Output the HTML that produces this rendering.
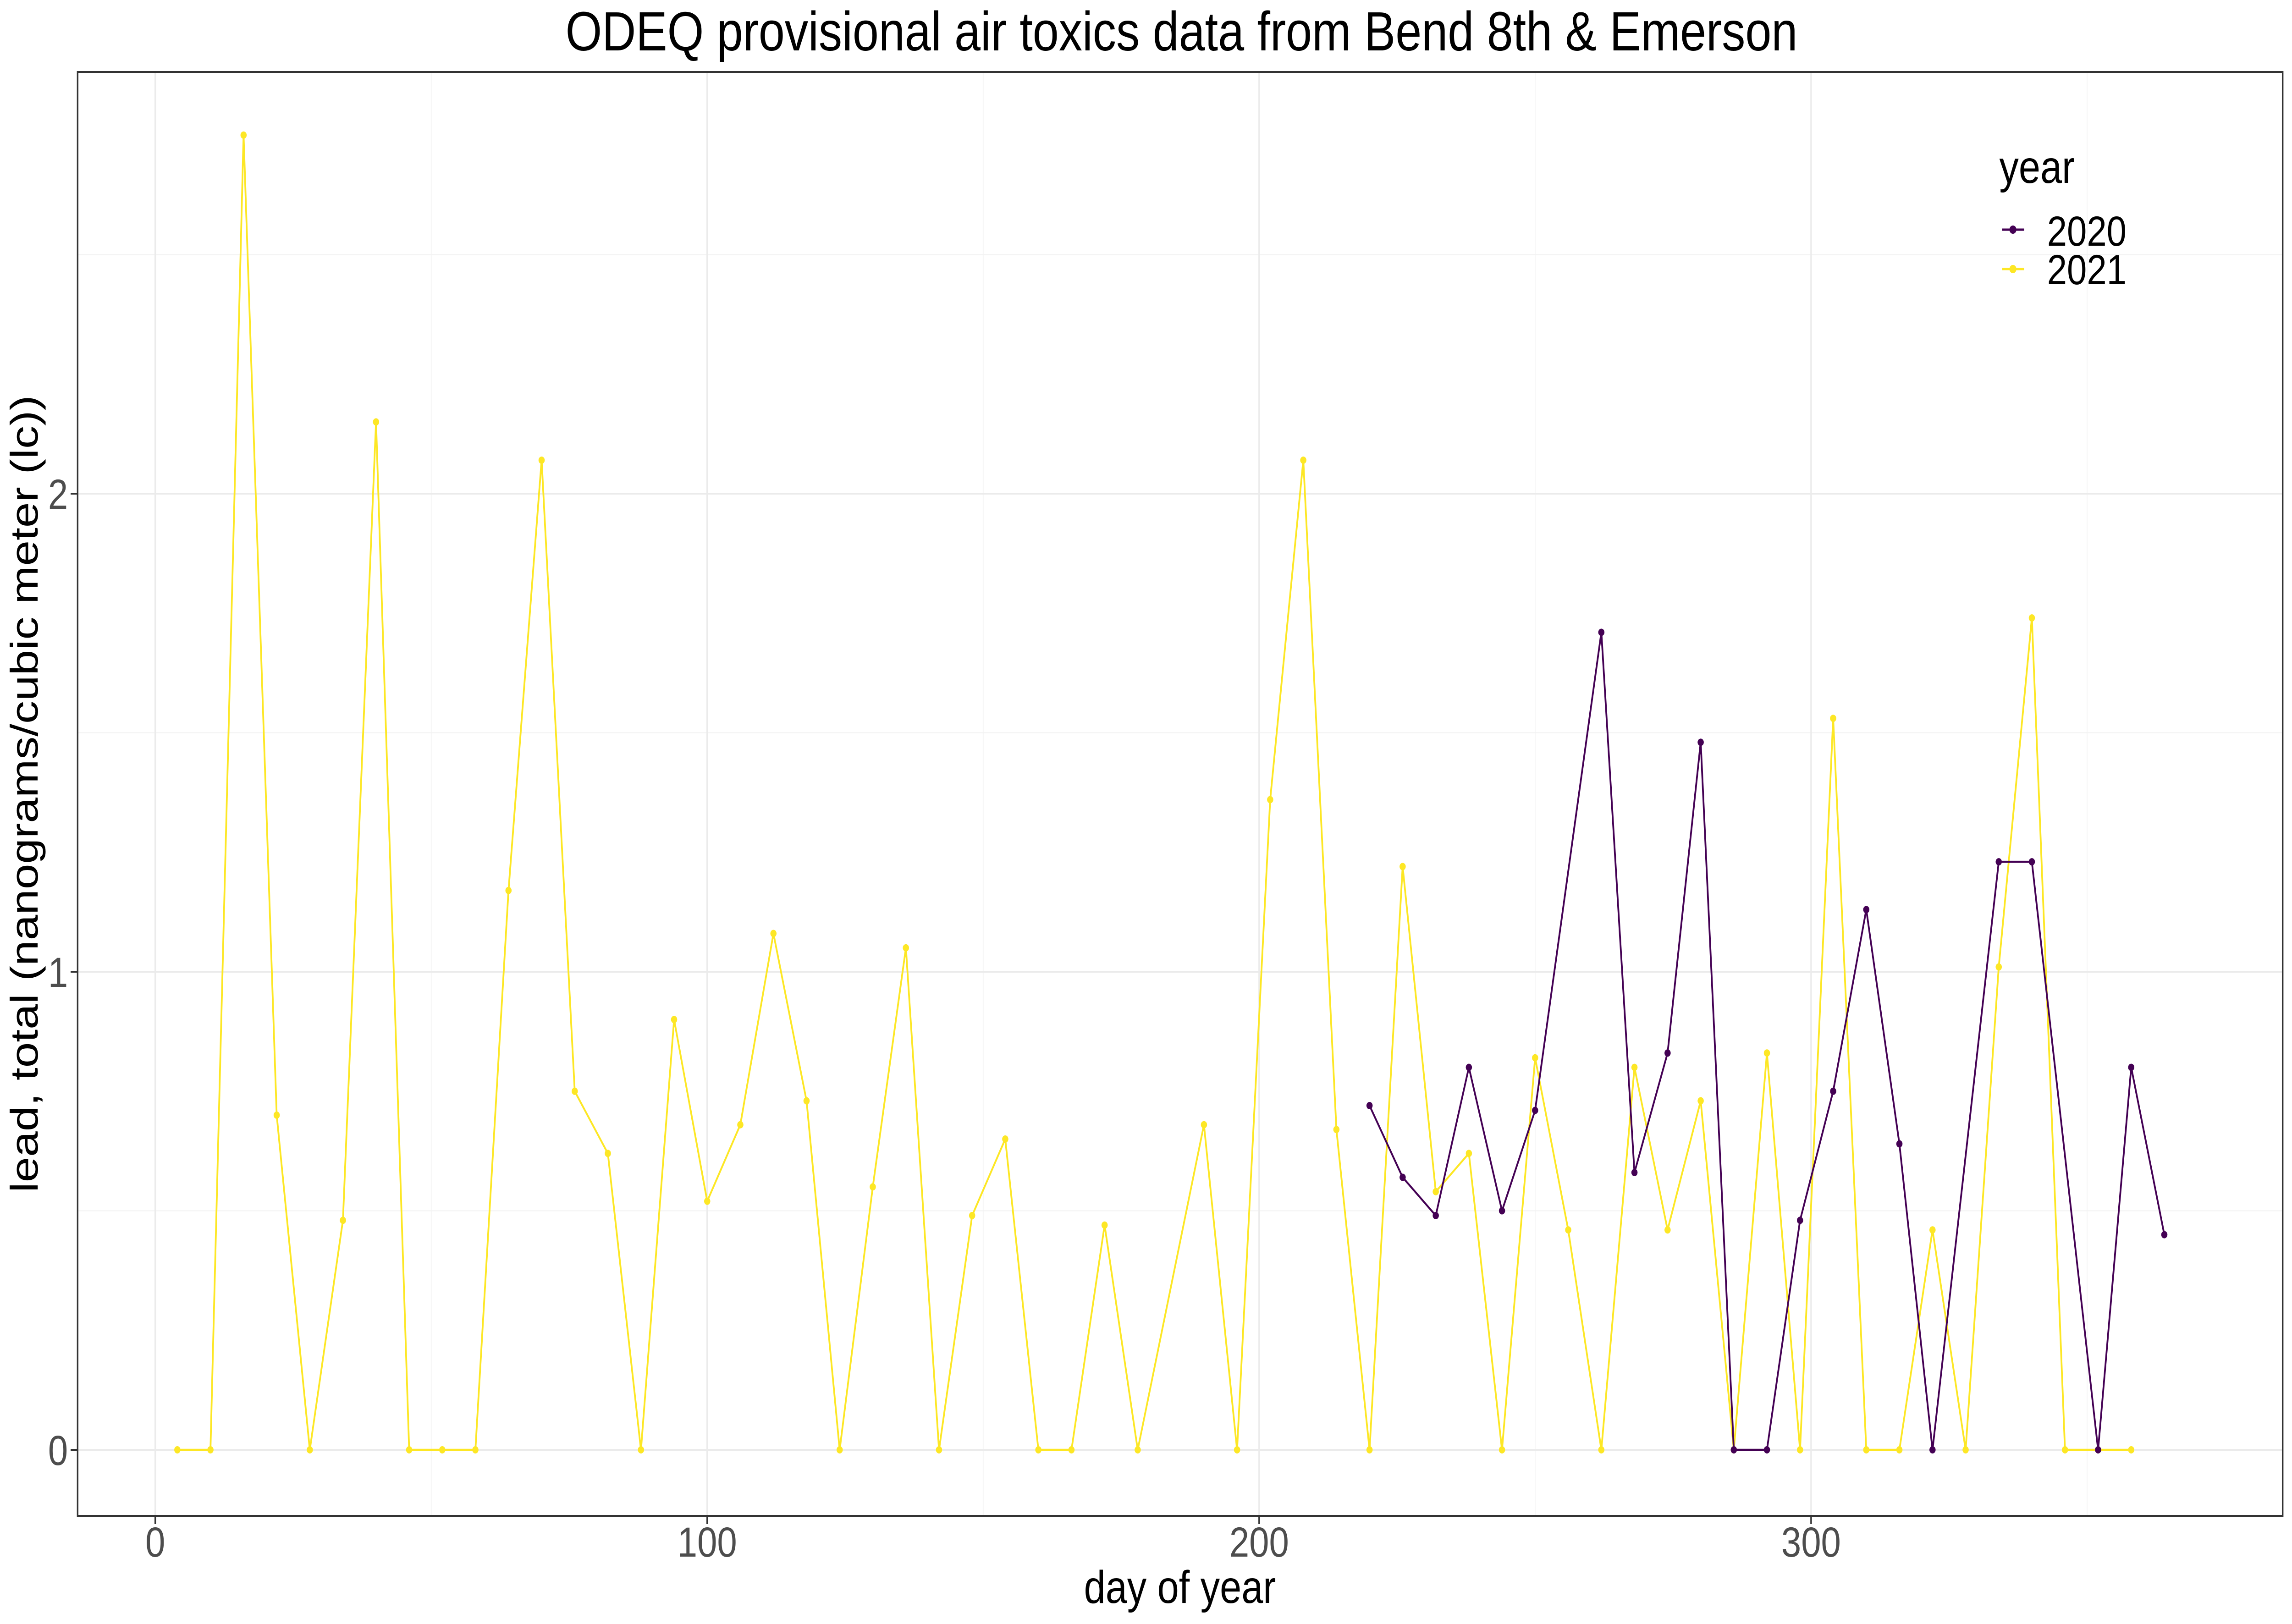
<!DOCTYPE html>
<html><head><meta charset="utf-8">
<style>
html,body{margin:0;padding:0;background:#fff;overflow:hidden;width:100vw;height:100vh}
svg{display:block;font-family:"Liberation Sans",Arial,sans-serif;width:100vw;height:100vh}
</style></head>
<body>
<svg id="chart" viewBox="0 0 5905 3543" preserveAspectRatio="none" xmlns="http://www.w3.org/2000/svg">
<rect x="0" y="0" width="5905" height="3543" fill="#fff"/>
<g id="grid"></g>
<g id="series"></g>
<rect x="200" y="157" width="5681" height="3150" fill="none" stroke="#333" stroke-width="4"/>
<g id="axes"></g>
<text x="3044" y="110" text-anchor="middle" font-size="121" fill="#000">ODEQ provisional air toxics data from Bend 8th &amp; Emerson</text>
<text x="3040" y="3497" text-anchor="middle" font-size="100" fill="#000">day of year</text>
<text transform="translate(97,1732) rotate(-90)" text-anchor="middle" font-size="100" fill="#000">lead, total (nanograms/cubic meter (lc))</text>
<g>
<text x="5151" y="399" font-size="100" fill="#000">year</text>
<g>
<line x1="5158" y1="501" x2="5215" y2="501" stroke="#440154" stroke-width="5"/>
<circle cx="5186" cy="501" r="9" fill="#440154"/>
<text x="5274" y="536" font-size="92" fill="#000">2020</text>
</g>
<g>
<line x1="5158" y1="587" x2="5215" y2="587" stroke="#FDE725" stroke-width="5"/>
<circle cx="5186" cy="587" r="9" fill="#FDE725"/>
<text x="5274" y="620" font-size="92" fill="#000">2021</text>
</g>
</g>
</svg>
<script>
const xTicks = [0, 100, 200, 300];
const xMinor = [50, 150, 250, 350];
const yTicks = [0, 1, 2];
const yMinor = [0.5, 1.5, 2.5];
const days2021 = [4,10,16,22,28,34,40,46,52,58,64,70,76,82,88,94,100,106,112,118,124,130,136,142,148,154,160,166,172,178,190,196,202,208,214,220,226,232,238,244,250,256,262,268,274,280,286,292,298,304,310,316,322,328,334,340,346,352,358];
const vals2021 = [0,0,2.75,0.70,0,0.48,2.15,0,0,0,1.17,2.07,0.75,0.62,0,0.90,0.52,0.68,1.08,0.73,0,0.55,1.05,0,0.49,0.65,0,0,0.47,0,0.68,0,1.36,2.07,0.67,0,1.22,0.54,0.62,0,0.82,0.46,0,0.80,0.46,0.73,0,0.83,0,1.53,0,0,0.46,0,1.01,1.74,0,0,0];
const days2020 = [220,226,232,238,244,250,262,268,274,280,286,292,298,304,310,316,322,334,340,352,358,364];
const vals2020 = [0.72,0.57,0.49,0.80,0.50,0.71,1.71,0.58,0.83,1.48,0,0,0.48,0.75,1.13,0.64,0,1.23,1.23,0,0.80,0.45];

const NS = "http://www.w3.org/2000/svg";
const L = 200, R = 5881, T = 157, B = 3307;
function xs(d){ return 400 + d * 14.22; }
function ys(v){ return 3163 - v * 1043; }
function mk(tag, attrs, parent){
  const e = document.createElementNS(NS, tag);
  for (const k in attrs) e.setAttribute(k, attrs[k]);
  parent.appendChild(e); return e;
}
const grid = document.getElementById('grid');
const axes = document.getElementById('axes');
const series = document.getElementById('series');

xMinor.forEach(d => { const e = mk('line',{x1:xs(d),x2:xs(d),y1:T,y2:B,stroke:'#f2f2f2','stroke-width':2},grid);
  
   });
yMinor.forEach(v => { const e = mk('line',{x1:L,x2:R,y1:ys(v),y2:ys(v),stroke:'#f2f2f2','stroke-width':2},grid);
  
   });
xTicks.forEach(d => { const e = mk('line',{x1:xs(d),x2:xs(d),y1:T,y2:B,stroke:'#ebebeb','stroke-width':4},grid);
  
  
  const t = mk('line',{x1:xs(d),x2:xs(d),y1:B,y2:B+18,stroke:'#333','stroke-width':4},axes);
  
  
  const lb = mk('text',{x:xs(d),y:3396,'text-anchor':'middle','font-size':92,fill:'#4d4d4d'},axes);
  lb.textContent = d;
  
   });
yTicks.forEach(v => { const e = mk('line',{x1:L,x2:R,y1:ys(v),y2:ys(v),stroke:'#ebebeb','stroke-width':4},grid);
  
  
  const t = mk('line',{x1:L-18,x2:L,y1:ys(v),y2:ys(v),stroke:'#333','stroke-width':4},axes);
  
  
  const lb = mk('text',{x:175,y:ys(v)+33,'text-anchor':'end','font-size':92,fill:'#4d4d4d'},axes);
  lb.textContent = v;
  
   });

function drawSeries(days, vals, color, name){
  const g = mk('g',{},series);
  
  
  const pts = days.map((d,i) => xs(d)+','+ys(vals[i])).join(' ');
  const pl = mk('polyline',{points:pts,fill:'none',stroke:color,'stroke-width':4.5,'stroke-linejoin':'round'},g);
  
  
  days.forEach((d,i) => { const c = mk('circle',{cx:xs(d),cy:ys(vals[i]),r:8,fill:color},g);
    
     });
}
drawSeries(days2021, vals2021, '#FDE725', 'series-2021');
drawSeries(days2020, vals2020, '#440154', 'series-2020');
</script>
</body></html>
